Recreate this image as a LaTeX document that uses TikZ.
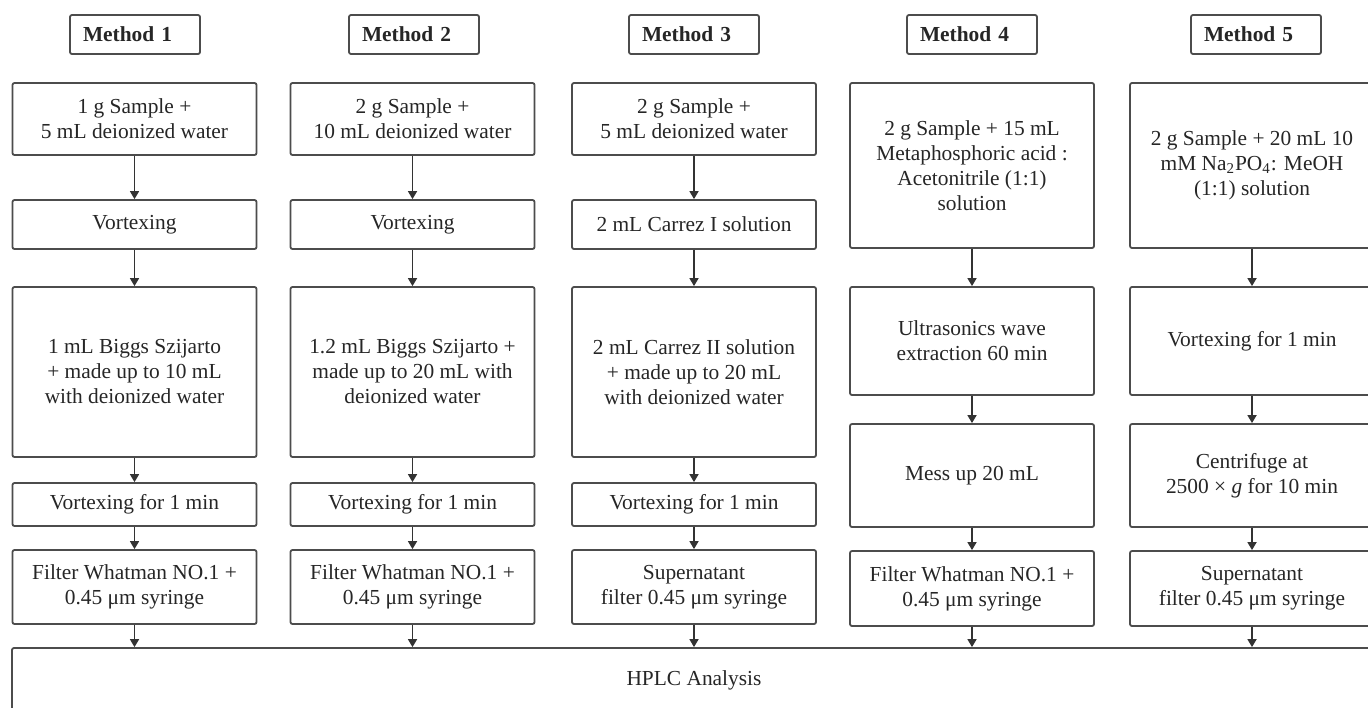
\documentclass[tikz,border=0pt]{standalone}
\usepackage{fontspec}
\setmainfont{Liberation Serif}
\usetikzlibrary{arrows.meta}

\begin{document}
\begin{tikzpicture}[x=0.5pt,y=-0.5pt,
  box/.style={draw=black!70,line width=0.9pt,rounded corners=1pt,align=center,text=black!85,
    font=\fontsize{10.7}{12.5}\selectfont,inner sep=0pt,minimum width=122pt},
  head/.style={box,font=\fontsize{10.7}{12.5}\selectfont\bfseries,minimum width=65pt,
    minimum height=19.5pt,text width=52pt,align=left},
  arr/.style={draw=black!80,line width=0.8pt,-{Triangle[length=4pt,width=4.5pt]}}]
\useasboundingbox[fill=white] (0,0) rectangle (1368,707);

% headers
\node[head] (m1) at (135,34.5) {Method 1};
\node[head] (m2) at (414,34.5) {Method 2};
\node[head] (m3) at (694,34.5) {Method 3};
\node[head] (m4) at (972,34.5) {Method 4};
\node[head] (m5) at (1256,34.5) {Method 5};

% method 1
\node[box,minimum height=36pt] (s1) at (134.5,119) {1 g Sample +\\5 mL deionized water};
\node[box,minimum height=24.5pt] (v1) at (134.5,224.5) {Vortexing};
\node[box,minimum height=85pt] (b1) at (134.5,372) {1 mL Biggs Szijarto\\+ made up to 10 mL\\with deionized water};
\node[box,minimum height=21.5pt] (w1) at (134.5,504.5) {Vortexing for 1 min};
\node[box,minimum height=37pt] (f1) at (134.5,587) {Filter Whatman NO.1 +\\0.45 μm syringe};

% method 2
\node[box,minimum height=36pt] (s2) at (412.5,119) {2 g Sample +\\10 mL deionized water};
\node[box,minimum height=24.5pt] (v2) at (412.5,224.5) {Vortexing};
\node[box,minimum height=85pt] (b2) at (412.5,372) {1.2 mL Biggs Szijarto +\\made up to 20 mL with\\deionized water};
\node[box,minimum height=21.5pt] (w2) at (412.5,504.5) {Vortexing for 1 min};
\node[box,minimum height=37pt] (f2) at (412.5,587) {Filter Whatman NO.1 +\\0.45 μm syringe};

% method 3
\node[box,minimum height=36pt] (s3) at (694,119) {2 g Sample +\\5 mL deionized water};
\node[box,minimum height=24.5pt] (v3) at (694,224.5) {2 mL Carrez I solution};
\node[box,minimum height=85pt] (b3) at (694,372) {2 mL Carrez II solution\\+ made up to 20 mL\\with deionized water};
\node[box,minimum height=21.5pt] (w3) at (694,504.5) {Vortexing for 1 min};
\node[box,minimum height=37pt] (f3) at (694,587) {Supernatant\\filter 0.45 μm syringe};

% method 4
\node[box,minimum height=82.5pt] (s4) at (972,165.5) {2 g Sample + 15 mL\\Metaphosphoric acid :\\Acetonitrile (1:1)\\solution};
\node[box,minimum height=54pt] (v4) at (972,341) {Ultrasonics wave\\extraction 60 min};
\node[box,minimum height=51.5pt] (b4) at (972,475.5) {Mess up 20 mL};
\node[box,minimum height=37.5pt] (f4) at (972,588.5) {Filter Whatman NO.1 +\\0.45 μm syringe};

% method 5
\node[box,minimum height=82.5pt] (s5) at (1252,165.5) {2 g Sample + 20 mL 10\\mM Na\textsubscript{2}PO\textsubscript{4}: MeOH\\(1:1) solution};
\node[box,minimum height=54pt] (v5) at (1252,341) {Vortexing for 1 min};
\node[box,minimum height=51.5pt] (b5) at (1252,475.5) {Centrifuge at\\2500 × \textit{g} for 10 min};
\node[box,minimum height=37.5pt] (f5) at (1252,588.5) {Supernatant\\filter 0.45 μm syringe};

\node[box,minimum width=682pt,minimum height=32pt] (hplc) at (694,680) {HPLC Analysis};

\draw[arr] (s1) -- (v1);
\draw[arr] (v1) -- (b1);
\draw[arr] (b1) -- (w1);
\draw[arr] (w1) -- (f1);
\draw[arr] (f1) -- (f1 |- hplc.north);

\draw[arr] (s2) -- (v2);
\draw[arr] (v2) -- (b2);
\draw[arr] (b2) -- (w2);
\draw[arr] (w2) -- (f2);
\draw[arr] (f2) -- (f2 |- hplc.north);

\draw[arr] (s3) -- (v3);
\draw[arr] (v3) -- (b3);
\draw[arr] (b3) -- (w3);
\draw[arr] (w3) -- (f3);
\draw[arr] (f3) -- (f3 |- hplc.north);

\draw[arr] (s4) -- (v4);
\draw[arr] (v4) -- (b4);
\draw[arr] (b4) -- (f4);
\draw[arr] (f4) -- (f4 |- hplc.north);

\draw[arr] (s5) -- (v5);
\draw[arr] (v5) -- (b5);
\draw[arr] (b5) -- (f5);
\draw[arr] (f5) -- (f5 |- hplc.north);

\end{tikzpicture}
\end{document}
